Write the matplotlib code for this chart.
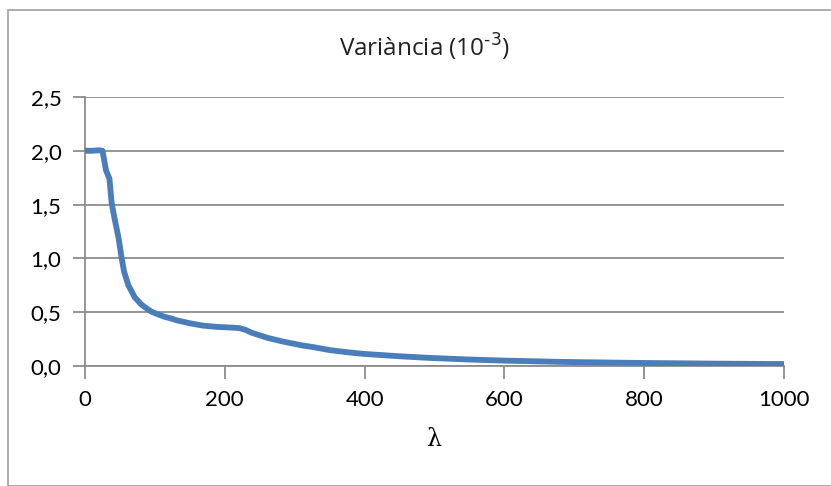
import matplotlib.pyplot as plt
from matplotlib.patches import Rectangle

# valors llegits de la figura
lam = [0, 10, 20, 25, 27, 30, 35, 38, 42, 48, 52, 56, 62, 71, 80, 86, 95, 105,
       115, 124, 131, 150, 169, 190, 210, 221, 230, 238, 250, 262, 280, 296,
       312, 327, 350, 375, 398, 446, 494, 550, 600, 683, 750, 800, 900, 1000]
var = [2.0, 2.0, 2.005, 2.0, 1.93, 1.82, 1.74, 1.52, 1.38, 1.19, 1.02, 0.874,
       0.75, 0.64, 0.575, 0.545, 0.505, 0.478, 0.455, 0.44, 0.425, 0.397, 0.375,
       0.363, 0.357, 0.352, 0.335, 0.31, 0.285, 0.26, 0.232, 0.21, 0.19, 0.175,
       0.148, 0.128, 0.113, 0.092, 0.075, 0.06, 0.05, 0.038, 0.032, 0.028,
       0.022, 0.018]
xticks = [0, 200, 400, 600, 800, 1000]
yticks = [0.0, 0.5, 1.0, 1.5, 2.0, 2.5]
ylabels = ['0,0', '0,5', '1,0', '1,5', '2,0', '2,5']

W, H = 831, 486
fig = plt.figure(figsize=(W / 100, H / 100), dpi=100)
fig.patches.append(Rectangle((8 / W, 0), 1.0, 1 - 10 / H, transform=fig.transFigure,
                             fill=False, edgecolor='#a0a0a0', linewidth=1.2))

ax = fig.add_axes([85 / W, 1 - 366 / H, (784 - 85) / W, (366 - 97) / H])
ax.plot(lam, var, color='#4a7ebb', linewidth=4.2, solid_joinstyle='round',
        solid_capstyle='butt', zorder=3)

ax.set_xlim(0, 1000)
ax.set_ylim(0, 2.5)
ax.set_xticks(xticks)
ax.set_xticklabels([str(v) for v in xticks])
ax.set_yticks(yticks)
ax.set_yticklabels(ylabels)

gray = '#8c8c8c'
ax.grid(axis='y', color=gray, linewidth=1.3)
ax.set_axisbelow(True)
for s in ['top', 'right']:
    ax.spines[s].set_visible(False)
for s in ['left', 'bottom']:
    ax.spines[s].set_color(gray)
    ax.spines[s].set_linewidth(1.3)
ax.tick_params(axis='both', direction='out', length=9, width=1.3, color=gray,
               labelsize=16, pad=8)
for lab in ax.get_xticklabels() + ax.get_yticklabels():
    lab.set_family('Lato')

ax.set_xlabel('λ', fontsize=17, family='DejaVu Serif', labelpad=13)
fig.text(424 / W, 1 - 47 / H, 'Variància (10$^{\\text{-3}}$)', ha='center',
         va='center', fontsize=17.5, family='Open Sans', color='#222222')

fig.savefig('out.png', dpi=100)
